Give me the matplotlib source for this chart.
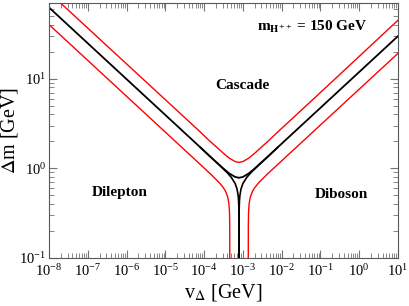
import numpy as np
import matplotlib
matplotlib.use("Agg")
import matplotlib.pyplot as plt
from matplotlib.ticker import LogLocator, NullFormatter

plt.rcParams['font.family'] = ['Liberation Serif', 'DejaVu Serif']
plt.rcParams['mathtext.fontset'] = 'stix'

# --- data (v_Delta in GeV, Delta m in GeV) ---
# black V : BR(cascade) = 50%
v_black = [1e-8, 7.94e-6, 7.94e-5, 1.41e-4, 2.51e-4, 3.16e-4, 4.47e-4, 6.31e-4, 7.94e-4,
           1.0e-3, 1.41e-3, 2.0e-3, 2.51e-3, 4.47e-3, 7.94e-3, 7.94e-2, 10.0]
dm_black = [62.4, 4.32, 1.72, 1.36, 1.086, 0.993, 0.877, 0.802, 0.785,
            0.802, 0.877, 0.993, 1.086, 1.36, 1.72, 4.32, 29.9]

# black inner branches : BR(ll) = 50%, BR(WW) = 50%
v_bl_left = [7.943e-4, 7.940e-4, 7.925e-4, 7.852e-4, 7.762e-4, 7.586e-4, 7.079e-4, 6.310e-4,
             5.012e-4, 3.981e-4, 2.512e-4, 7.943e-5]
v_bl_right = [7.943e-4, 7.947e-4, 7.962e-4, 8.035e-4, 8.128e-4, 8.318e-4, 8.913e-4, 1.0e-3,
              1.259e-3, 1.585e-3, 2.512e-3, 7.943e-3]
dm_branch = [0.1, 0.194, 0.268, 0.370, 0.425, 0.488, 0.586, 0.678, 0.794, 0.889, 1.081, 1.718]

# red upper V : BR(cascade) = 90%
v_red_up = v_black
dm_red_up = [92.0, 6.40, 2.55, 2.01, 1.610, 1.470, 1.300, 1.190, 1.165,
             1.190, 1.300, 1.470, 1.610, 2.01, 2.55, 6.40, 45.0]

# red lower curves : BR(ll) = 90%, BR(WW) = 90%
v_red_left = [4.585e-4, 4.571e-4, 4.519e-4, 4.467e-4, 4.365e-4, 4.169e-4, 3.981e-4, 3.548e-4,
              3.162e-4, 2.512e-4, 1.585e-4, 7.943e-5, 2.512e-5, 1e-8]
v_red_right = [1.376e-3, 1.380e-3, 1.396e-3, 1.413e-3, 1.445e-3, 1.514e-3, 1.585e-3, 1.778e-3,
               1.995e-3, 2.512e-3, 3.981e-3, 7.943e-3, 2.512e-2, 10.0]
dm_red_left = [0.1, 0.231, 0.312, 0.350, 0.397, 0.453, 0.491, 0.557, 0.605, 0.685, 0.838,
               1.107, 1.754, 40.2]
dm_red_right = [0.1, 0.231, 0.312, 0.350, 0.397, 0.453, 0.491, 0.557, 0.605, 0.685, 0.838,
                1.107, 1.754, 19.2]

xticks = [1e-8, 1e-7, 1e-6, 1e-5, 1e-4, 1e-3, 1e-2, 1e-1, 1e0, 1e1]
yticks = [1e-1, 1e0, 1e1]

fig = plt.figure(figsize=(4.09, 3.06), dpi=100)
ax = fig.add_axes([0.120, 0.157, 0.853, 0.833])

ax.plot(v_red_up, dm_red_up, color='red', lw=1.0)
ax.plot(v_red_left, dm_red_left, color='red', lw=1.0)
ax.plot(v_red_right, dm_red_right, color='red', lw=1.0)
ax.plot(v_black, dm_black, color='black', lw=1.3)
ax.plot(v_bl_left, dm_branch, color='black', lw=1.2)
ax.plot(v_bl_right, dm_branch, color='black', lw=1.2)

ax.set_xscale('log')
ax.set_yscale('log')
ax.set_xticks(xticks)
ax.set_yticks(yticks)
ax.set_xlim(1e-8, 10)
ax.set_ylim(0.1, 70)

ax.xaxis.set_minor_locator(LogLocator(base=10, subs=np.arange(2, 10), numticks=20))
ax.yaxis.set_minor_locator(LogLocator(base=10, subs=np.arange(2, 10), numticks=20))
ax.xaxis.set_minor_formatter(NullFormatter())
ax.yaxis.set_minor_formatter(NullFormatter())

for s in ax.spines.values():
    s.set_color('0.35')
ax.tick_params(which='both', direction='in', top=True, right=True, color='0.45',
               labelsize=10.5)
ax.tick_params(axis='x', pad=4)
ax.tick_params(axis='y', pad=2)
ax.tick_params(which='major', length=6)
ax.tick_params(which='minor', length=3.5)

ax.set_xlabel(r'v$_\Delta$ [GeV]', fontsize=14.5, labelpad=2)
ax.set_ylabel(r'$\Delta$m [GeV]', fontsize=14.5)
ax.yaxis.set_label_coords(-0.083, 0.5)

ax.text(0.553, 0.678, 'Cascade', transform=ax.transAxes, ha='center', va='center',
        fontsize=11, fontweight='bold')
ax.text(0.203, 0.255, 'Dilepton', transform=ax.transAxes, ha='center', va='center',
        fontsize=11, fontweight='bold')
ax.text(0.837, 0.247, 'Diboson', transform=ax.transAxes, ha='center', va='center',
        fontsize=11, fontweight='bold')
ax.text(0.754, 0.906, r'm$_{\mathbf{H^{++}}}$ = 150 GeV', transform=ax.transAxes,
        ha='center', va='center', fontsize=11, fontweight='bold')

fig.savefig('out.png', dpi=100)
